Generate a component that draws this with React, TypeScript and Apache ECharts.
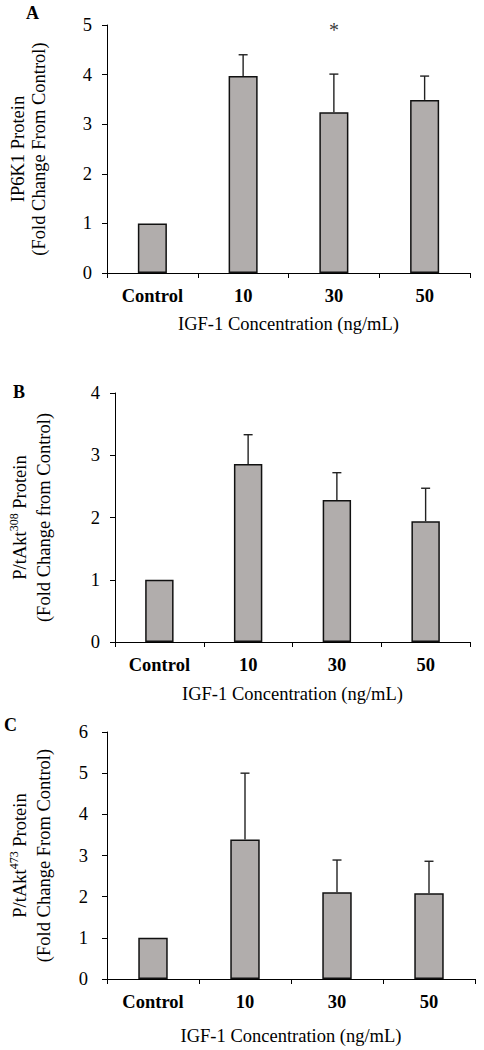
import React, { useEffect, useRef } from "react";
import * as echarts from "echarts";

const categories = ["Control", "10", "30", "50"];

const meansA = [1.0, 3.97, 3.24, 3.49];
const errorsA = [0, 0.43, 0.77, 0.48];
const meansB = [1.0, 2.86, 2.28, 1.94];
const errorsB = [0, 0.47, 0.44, 0.53];
const meansC = [1.0, 3.39, 2.11, 2.08];
const errorsC = [0, 1.61, 0.78, 0.78];

const yMaxes = [5, 4, 6];
const significance = [{ panel: 0, category: "30", y: 4.9, mark: "*" }];

const panelLetters = ["A", "B", "C"];
const xAxisTitle = "IGF-1 Concentration (ng/mL)";

const FONT = "Liberation Serif";
const BAR_COLOR = "#b1adac";
const FS = 18.5;

export default function App() {
  const ref = useRef<HTMLDivElement>(null);

  useEffect(() => {
    if (!ref.current) return;
    const chart = echarts.init(ref.current, null, { renderer: "svg" });

    const grids = [
      { left: 78, top: 25, width: 392, height: 248 },
      { left: 87, top: 393, width: 383, height: 249 },
      { left: 76, top: 732, width: 399, height: 247 },
    ];
    const xNameGaps = [41, 42, 47];
    const yNameGaps = [58, 59, 51];
    const yNames = [
      "{a|IP6K1 Protein}\n{a|(Fold Change From Control)}",
      "{a|P/tAkt}{sup|308}{a| Protein}\n{a|(Fold Change from Control)}",
      "{a|P/tAkt}{sup|473}{a| Protein}\n{a|(Fold Change From Control)}",
    ];
    const lineHeights = [21, 24, 24];
    const allMeans = [meansA, meansB, meansC];
    const allErrors = [errorsA, errorsB, errorsC];

    const xAxes = grids.map((_, i) => ({
      type: "category",
      gridIndex: i,
      data: categories,
      name: xAxisTitle,
      nameLocation: "middle",
      nameGap: xNameGaps[i],
      nameTextStyle: { fontFamily: FONT, fontSize: FS, color: "#000" },
      axisLine: { show: true, lineStyle: { color: "#000", width: 1 } },
      axisTick: { show: true, alignWithLabel: false, length: 5, lineStyle: { color: "#000" } },
      axisLabel: {
        fontFamily: FONT,
        fontSize: FS,
        fontWeight: "bold",
        color: "#000",
        margin: 13,
      },
      splitLine: { show: false },
    }));

    const yAxes = grids.map((_, i) => ({
      type: "value",
      gridIndex: i,
      min: 0,
      max: yMaxes[i],
      interval: 1,
      name: yNames[i],
      nameLocation: "middle",
      nameRotate: 90,
      nameGap: yNameGaps[i],
      nameTextStyle: {
        fontFamily: FONT,
        fontSize: FS,
        color: "#000",
        align: "center",
        rich: {
          a: { fontFamily: FONT, fontSize: FS, color: "#000", lineHeight: lineHeights[i] },
          sup: { fontFamily: FONT, fontSize: 12, color: "#000", lineHeight: 12, verticalAlign: "top" },
        },
      },
      axisLine: { show: true, lineStyle: { color: "#000", width: 1 } },
      axisTick: { show: true, length: 5, lineStyle: { color: "#000" } },
      axisLabel: { fontFamily: FONT, fontSize: FS, color: "#000", margin: i === 2 ? 19 : 15 },
      splitLine: { show: false },
    }));

    const series: any[] = [];
    grids.forEach((_, i) => {
      series.push({
        type: "bar",
        xAxisIndex: i,
        yAxisIndex: i,
        data: allMeans[i],
        barWidth: "32%",
        itemStyle: { color: BAR_COLOR, borderColor: "#111", borderWidth: 1.5 },
        z: 2,
      });
      series.push({
        type: "custom",
        xAxisIndex: i,
        yAxisIndex: i,
        z: 3,
        data: categories.map((_, k) => [k, allMeans[i][k], allErrors[i][k]]),
        encode: { x: 0, y: 1 },
        renderItem: (params: any, api: any) => {
          const idx = api.value(0);
          const mean = api.value(1);
          const err = api.value(2);
          if (!err) return null;
          const p0 = api.coord([idx, mean]);
          const p1 = api.coord([idx, mean + err]);
          const style = { stroke: "#222", lineWidth: 1.4 };
          return {
            type: "group",
            children: [
              { type: "line", shape: { x1: p0[0], y1: p0[1], x2: p1[0], y2: p1[1] }, style },
              { type: "line", shape: { x1: p1[0] - 4.5, y1: p1[1], x2: p1[0] + 4.5, y2: p1[1] }, style },
            ],
          };
        },
      });
    });

    significance.forEach((s) => {
      series.push({
        type: "scatter",
        xAxisIndex: s.panel,
        yAxisIndex: s.panel,
        symbolSize: 0,
        data: [[s.category, s.y]],
        label: {
          show: true,
          position: "inside",
          formatter: s.mark,
          fontFamily: FONT,
          fontSize: 20,
          color: "#000",
        },
      });
    });

    const letterPos = [
      { left: 26, top: 4 },
      { left: 13, top: 383 },
      { left: 4, top: 716 },
    ];

    chart.setOption({
      animation: false,
      backgroundColor: "#fff",
      grid: grids,
      xAxis: xAxes,
      yAxis: yAxes,
      series,
      graphic: panelLetters.map((t, i) => ({
        type: "text",
        left: letterPos[i].left,
        top: letterPos[i].top,
        style: { text: t, fontFamily: FONT, fontSize: 18, fontWeight: "bold", fill: "#000" },
      })),
    });

    return () => chart.dispose();
  }, []);

  return (
    <div
      ref={ref}
      style={{ position: "absolute", left: 0, top: 0, width: 484, height: 1050, background: "#fff" }}
    />
  );
}
